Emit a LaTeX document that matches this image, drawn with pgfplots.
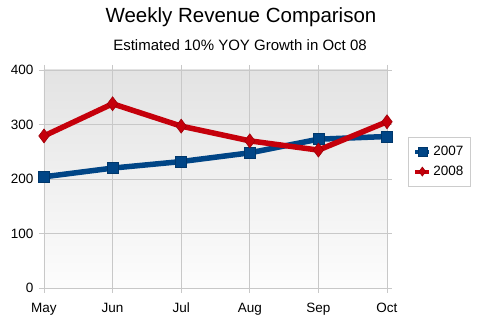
\documentclass[border=0pt]{standalone}
\usepackage{pgfplots}
\pgfplotsset{compat=1.18}
\usepackage{fontspec}
\setmainfont{Liberation Sans}
\definecolor{ser1}{HTML}{004586}
\definecolor{ser2}{HTML}{C5000B}
\definecolor{gridc}{HTML}{C8C8C8}
\begin{document}
\begin{tikzpicture}[x=1pt,y=1pt]
\useasboundingbox (-44,-40) rectangle (436,288);
\begin{axis}[
  at={(0,0)}, anchor=origin,
  scale only axis, width=343pt, height=218pt,
  xmin=0, xmax=5, ymin=0, ymax=400,
  xtick={0,1,2,3,4,5},
  xticklabels={May,Jun,Jul,Aug,Sep,Oct},
  ytick={0,100,200,300,400},
  /pgf/number format/assume math mode=true,
  tick label style={font=\fontsize{13.5}{15}\selectfont, text=black},
  xticklabel style={yshift=-6pt, text height=10pt, text depth=3pt},
  yticklabel style={xshift=-2pt},
  tick align=outside, major tick length=5pt,
  tick style={gridc, line width=0.8pt},
  grid=major, major grid style={gridc, line width=0.8pt},
  axis line style={gridc, line width=0.8pt},
  axis background/.style={top color=black!11, bottom color=black!1},
  clip=false,
  legend style={at={(1.061,0.693)}, anchor=north west, draw=black!20, line width=0.6pt,
    font=\fontsize{13.5}{15}\selectfont, inner xsep=5pt, inner ysep=7pt, row sep=5pt, fill=white},
  legend cell align=left,
  legend image code/.code={\draw[#1, line width=4pt] (0cm,0cm) -- (0.5cm,0cm); \path[#1, mark repeat=1, mark size=4.5pt] plot coordinates {(0.25cm,0cm)};},
]
\addplot[ser1, line width=5.5pt, mark=square*, mark size=5.5pt, mark options={solid, line width=0.6pt, draw=ser1!80!black, fill=ser1}]
  coordinates {(0,204) (1,220) (2,232) (3,248) (4,273) (5,278)};
\addlegendentry{2007}
\addplot[ser2, line width=5.5pt, mark=diamond*, mark size=7pt, mark options={solid, line width=0.6pt, draw=ser2!80!black, fill=ser2}]
  coordinates {(0,279) (1,338) (2,297) (3,270) (4,253) (5,305)};
\addlegendentry{2008}
\end{axis}
\node[font=\fontsize{20.5}{24}\selectfont] at (197,271) {Weekly Revenue Comparison};
\node[font=\fontsize{15}{18}\selectfont] at (196,243) {Estimated 10\% YOY Growth in Oct 08};
\end{tikzpicture}
\end{document}
